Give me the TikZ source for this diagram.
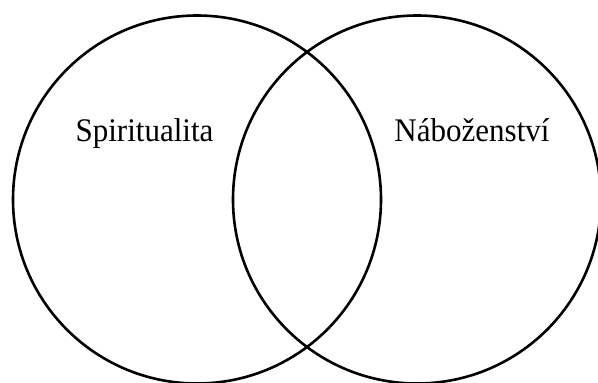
\documentclass[tikz,border=0pt]{standalone}
\usepackage{fontspec}
\setmainfont{Liberation Serif}[FakeStretch=0.94]
\usepackage{tikz}

\begin{document}
\begin{tikzpicture}[
        x=1pt, y=-1pt,
        set/.style={
            draw,
            circle,
            line width=2.6pt,
            inner sep=0pt,
            minimum size=368pt
        },
        setname/.style={
            anchor=base,
            inner sep=0pt,
            font=\fontsize{33}{38}\selectfont
        }
    ]
        \useasboundingbox (0,0) rectangle (598,383);
        \node[set] (spirit) at (197,199.5) {};
        \node[set] (relig) at (417,199.5) {};

        \node[setname] (spiritname) at (144.5,141) {Spiritualita};
        \node[setname] (religname) at (472,141) {Náboženství};
    \end{tikzpicture}
\end{document}
